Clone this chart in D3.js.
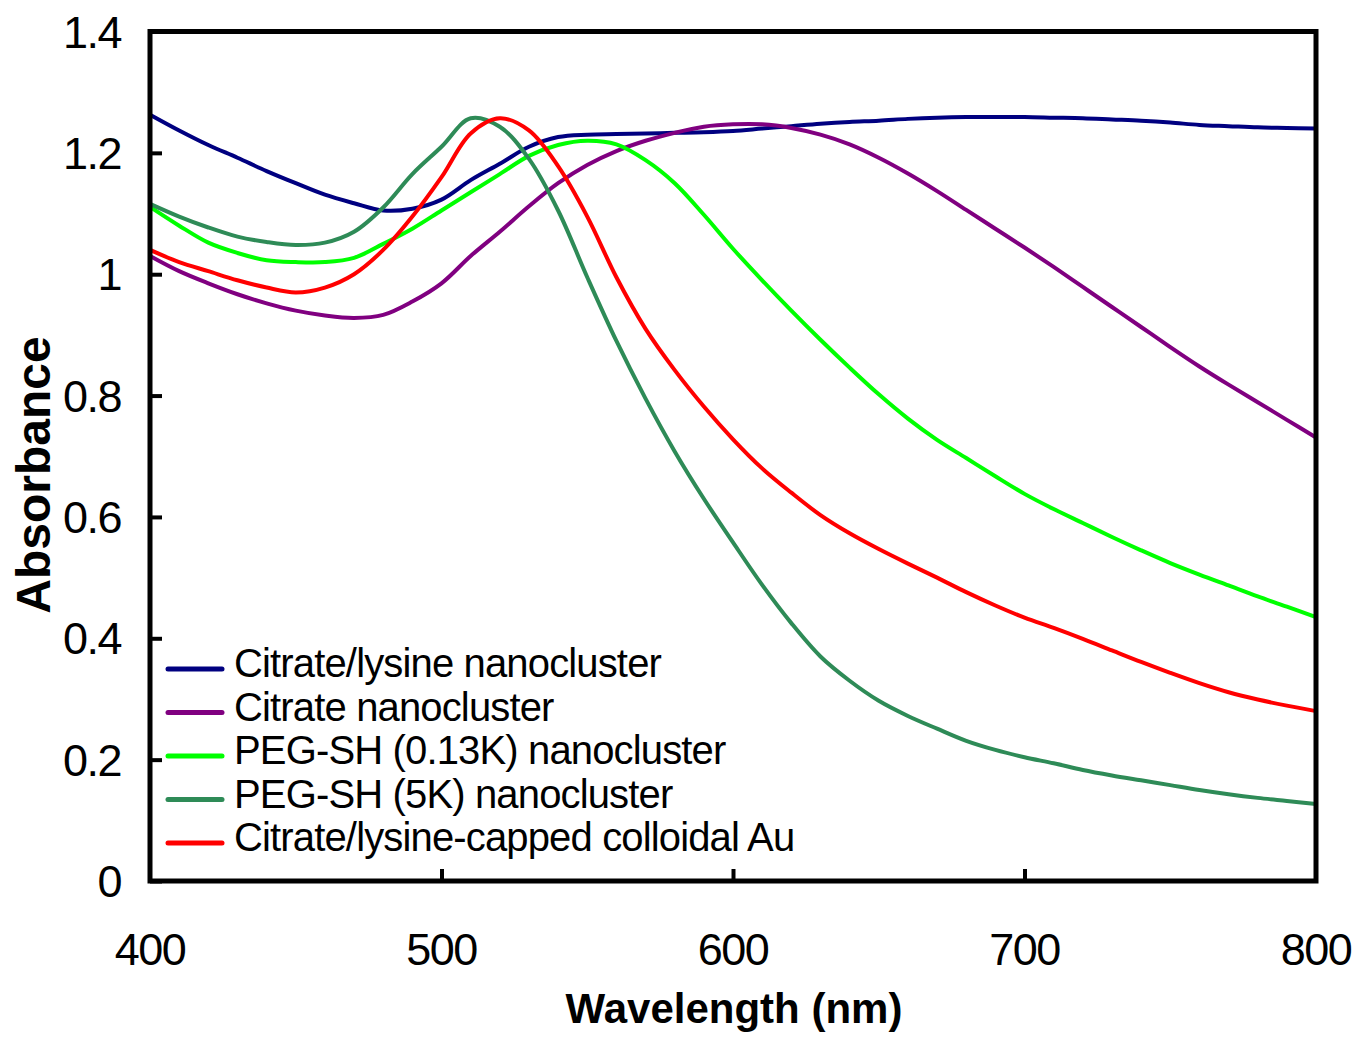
<!DOCTYPE html>
<html>
<head>
<meta charset="utf-8">
<script src="https://cdn.jsdelivr.net/npm/d3@7"></script>
<style>
  html, body { margin: 0; padding: 0; background: #fff; }
  svg { display: block; }
</style>
</head>
<body>
<svg id="chart" width="1359" height="1040"></svg>
<script>
// ---- data ----
const wavelengths = [400,410,420,430,440,450,460,470,480,490,500,510,520,530,540,550,560,570,580,590,600,610,620,630,640,650,660,670,680,690,700,710,720,730,740,750,760,770,780,790,800];

const citrateLysine = [1.263,1.237,1.213,1.192,1.170,1.150,1.131,1.117,1.105,1.108,1.123,1.155,1.182,1.210,1.226,1.230,1.231,1.232,1.233,1.234,1.236,1.240,1.244,1.248,1.251,1.253,1.256,1.258,1.259,1.259,1.259,1.258,1.257,1.255,1.253,1.250,1.246,1.244,1.242,1.241,1.240];

const citrate = [1.030,1.005,0.985,0.967,0.952,0.940,0.932,0.928,0.933,0.955,0.985,1.030,1.070,1.112,1.150,1.180,1.203,1.220,1.233,1.243,1.247,1.247,1.241,1.230,1.214,1.192,1.166,1.137,1.106,1.075,1.044,1.012,0.979,0.946,0.913,0.880,0.848,0.818,0.789,0.760,0.731];

const peg013 = [1.111,1.080,1.052,1.035,1.023,1.020,1.020,1.027,1.050,1.075,1.105,1.135,1.165,1.195,1.213,1.220,1.214,1.188,1.150,1.098,1.042,0.990,0.940,0.892,0.846,0.802,0.762,0.727,0.697,0.667,0.638,0.613,0.590,0.567,0.545,0.524,0.505,0.487,0.469,0.452,0.435];

const peg5k = [1.116,1.095,1.077,1.062,1.053,1.048,1.052,1.070,1.110,1.165,1.210,1.257,1.243,1.190,1.105,0.995,0.890,0.795,0.708,0.630,0.558,0.488,0.425,0.370,0.330,0.297,0.272,0.251,0.231,0.216,0.204,0.194,0.183,0.174,0.166,0.158,0.150,0.143,0.137,0.132,0.127];

const colloidalAu = [1.040,1.020,1.005,0.990,0.978,0.970,0.978,1.000,1.040,1.095,1.160,1.232,1.257,1.237,1.178,1.095,0.995,0.910,0.842,0.782,0.728,0.680,0.640,0.603,0.573,0.547,0.523,0.500,0.476,0.454,0.434,0.417,0.399,0.380,0.361,0.343,0.326,0.311,0.299,0.289,0.280];

const seriesNames = ["Citrate/lysine nanocluster","Citrate nanocluster","PEG-SH (0.13K) nanocluster","PEG-SH (5K) nanocluster","Citrate/lysine-capped colloidal Au"];
const seriesColors = ["#000080","#800080","#00FF00","#2E8B57","#FF0000"];
const seriesValues = [citrateLysine, citrate, peg013, peg5k, colloidalAu];

const xTicks = [400,500,600,700,800];
const yTicks = [0,0.2,0.4,0.6,0.8,1,1.2,1.4];
const xTitle = "Wavelength (nm)";
const yTitle = "Absorbance";

// ---- layout ----
const svg = d3.select("#chart");
const x0 = 150, x1 = 1316, yb = 881, yt = 31.5;
const x = d3.scaleLinear().domain([400, 800]).range([x0, x1]);
const y = d3.scaleLinear().domain([0, 1.4]).range([yb, yt]);
const font = "'Liberation Sans', Arial, sans-serif";

// data lines (drawn first, frame on top)
const line = d3.line()
  .x(d => x(d[0]))
  .y(d => y(d[1]))
  .curve(d3.curveCatmullRom.alpha(0.5));

const plot = svg.append("g");
seriesValues.forEach((vals, i) => {
  const pts = wavelengths.map((w, j) => [w, vals[j]]);
  plot.append("path")
    .datum(pts)
    .attr("d", line)
    .attr("fill", "none")
    .attr("stroke", seriesColors[i])
    .attr("stroke-width", 4)
    .attr("stroke-linejoin", "round");
});

// axes (ticks point inward)
const yAxis = d3.axisRight(y).tickValues(yTicks).tickSize(12).tickFormat("");
const gy = svg.append("g").attr("transform", `translate(${x0},0)`).call(yAxis);
gy.select(".domain").remove();
gy.selectAll(".tick line").attr("stroke", "#000").attr("stroke-width", 4);

const xAxis = d3.axisTop(x).tickValues(xTicks.slice(1, -1)).tickSize(12).tickFormat("");
const gx = svg.append("g").attr("transform", `translate(0,${yb})`).call(xAxis);
gx.select(".domain").remove();
gx.selectAll(".tick line").attr("stroke", "#000").attr("stroke-width", 4);

// frame
svg.append("rect")
  .attr("x", x0).attr("y", yt)
  .attr("width", x1 - x0).attr("height", yb - yt)
  .attr("fill", "none").attr("stroke", "#000").attr("stroke-width", 5);

// tick labels
svg.append("g").selectAll("text").data(yTicks).join("text")
  .attr("x", 121)
  .attr("y", d => y(d))
  .attr("dy", "0.36em")
  .attr("text-anchor", "end")
  .attr("font-family", font)
  .attr("font-size", 45)
  .attr("letter-spacing", "-1.5px")
  .attr("fill", "#000")
  .text(d => d3.format("~g")(d));

svg.append("g").selectAll("text").data(xTicks).join("text")
  .attr("x", d => x(d))
  .attr("y", 965)
  .attr("text-anchor", "middle")
  .attr("font-family", font)
  .attr("font-size", 45)
  .attr("letter-spacing", "-1.5px")
  .attr("fill", "#000")
  .text(d => d);

// axis titles
svg.append("text")
  .attr("x", 734)
  .attr("y", 1023)
  .attr("text-anchor", "middle")
  .attr("font-family", font)
  .attr("font-weight", "bold")
  .attr("font-size", 42)
  .attr("letter-spacing", "0px")
  .attr("fill", "#000")
  .text(xTitle);

svg.append("text")
  .attr("transform", "translate(50,475) rotate(-90)")
  .attr("text-anchor", "middle")
  .attr("font-family", font)
  .attr("font-weight", "bold")
  .attr("font-size", 48)
  .attr("letter-spacing", "0px")
  .attr("fill", "#000")
  .text(yTitle);

// legend
const leg = svg.append("g");
seriesNames.forEach((name, i) => {
  const ly = 669 + i * 43.5;
  leg.append("line")
    .attr("x1", 168).attr("x2", 222)
    .attr("y1", ly).attr("y2", ly)
    .attr("stroke", seriesColors[i])
    .attr("stroke-width", 5)
    .attr("stroke-linecap", "round");
  leg.append("text")
    .attr("x", 234)
    .attr("y", ly + 8)
    .attr("font-family", font)
    .attr("font-size", 40)
    .attr("letter-spacing", "-0.85px")
    .attr("fill", "#000")
    .text(name);
});
</script>
</body>
</html>
